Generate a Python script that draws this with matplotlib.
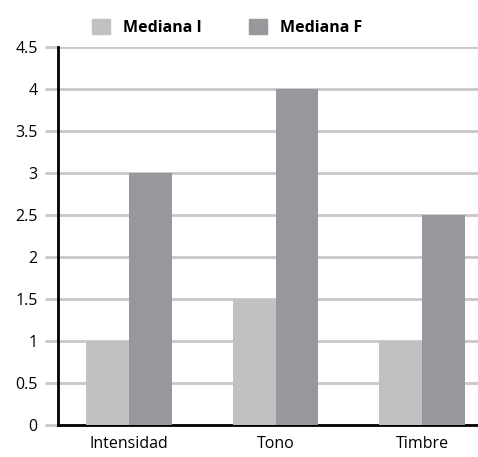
import numpy as np
import matplotlib.pyplot as plt
from matplotlib.patches import Patch

# Median scores before (I) and after (F)
categories = ['Intensidad', 'Tono', 'Timbre']
mediana_i = [1, 1.5, 1]
mediana_f = [3, 4, 2.5]
series_names = ['Mediana I', 'Mediana F']
yticks = [0, 0.5, 1, 1.5, 2, 2.5, 3, 3.5, 4, 4.5]
ytick_labels = ['0', '0.5', '1', '1.5', '2', '2.5', '3', '3.5', '4', '4.5']

color_i = '#c0c1c3'
color_f = '#97989b'
grid_color = '#c8c8c8'

plt.rcParams['font.family'] = ['Open Sans', 'DejaVu Sans']

fig = plt.figure(figsize=(4.78, 4.57), dpi=100)
ax = fig.add_axes([58 / 478, 32 / 457, 420 / 478, 378 / 457])

x = np.arange(len(categories))
width = 0.293
ax.bar(x - width / 2, mediana_i, width, color=color_i, zorder=3)
ax.bar(x + width / 2, mediana_f, width, color=color_f, zorder=3)

ax.set_xlim(-0.485, 2.382)
ax.set_ylim(0, 4.5)
ax.set_yticks(yticks)
ax.set_yticklabels(ytick_labels)
ax.set_xticks(x)
ax.set_xticklabels(categories)

ax.yaxis.grid(True, color=grid_color, linewidth=2, zorder=0)
ax.set_axisbelow(True)
ax.tick_params(axis='y', length=9.5, width=2, color=grid_color, labelsize=11.5, pad=5)
ax.tick_params(axis='x', length=0, labelsize=11.5, pad=8)

for side in ['top', 'right']:
    ax.spines[side].set_visible(False)
for side in ['left', 'bottom']:
    ax.spines[side].set_color('black')
    ax.spines[side].set_linewidth(2)

handles = [Patch(color=color_i), Patch(color=color_f)]
leg = fig.legend(handles, series_names, ncol=2, loc='upper left',
                 bbox_to_anchor=(78 / 478, 0.99), frameon=False,
                 prop={'weight': 'bold', 'size': 11.5},
                 handlelength=1.1, handleheight=1.1, handletextpad=0.8,
                 columnspacing=3.0)

fig.savefig('out.png', dpi=100)
